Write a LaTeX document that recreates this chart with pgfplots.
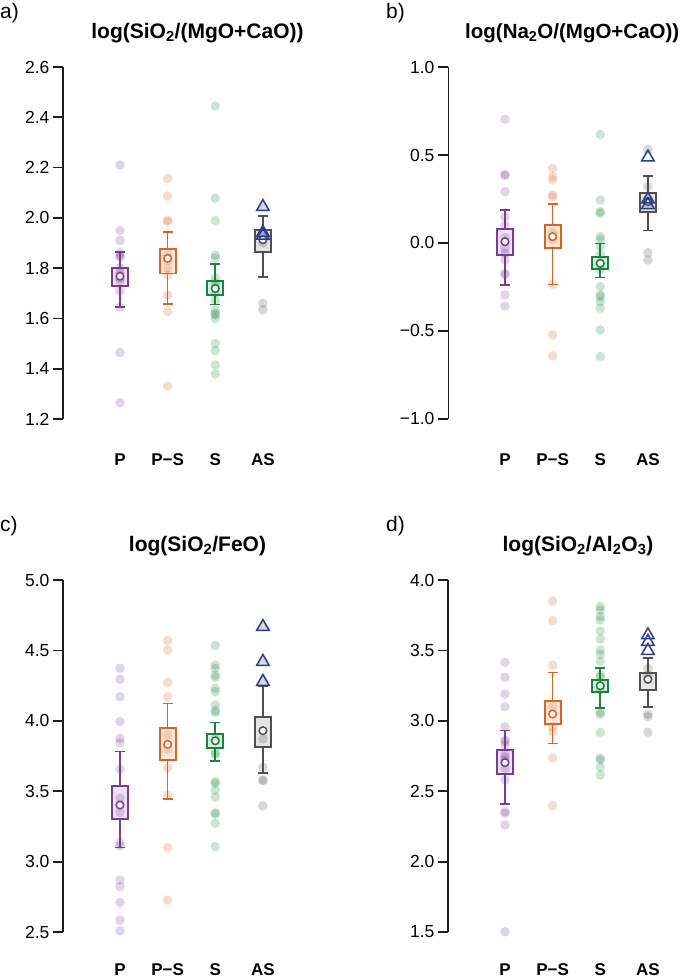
\documentclass[border=0pt]{standalone}
\usepackage{fontspec}
\setmainfont{Liberation Sans}
\usepackage{pgfplots}
\pgfplotsset{compat=1.18}
\definecolor{purpC}{RGB}{122,58,154}
\definecolor{oranC}{RGB}{222,100,30}
\definecolor{grenC}{RGB}{22,135,58}
\definecolor{grayC}{RGB}{80,80,80}
\definecolor{bluC}{RGB}{40,60,150}
\definecolor{axC}{RGB}{30,30,30}
% #1 x, #2 xL, #3 xR, #4 color, #5 lo, #6 q1, #7 mean, #8 q3, #9 hi
\newcommand{\grp}[9]{%
  \addplot[draw=#4, line width=1.8pt, fill=#4, fill opacity=0.15, mark=none] coordinates {(#2,#6) (#3,#6) (#3,#8) (#2,#8)} -- cycle;
  \addplot[#4, line width=1.6pt, mark=-, mark size=5pt, mark options={solid,line width=1.6pt}] coordinates {(#1,#5) (#1,#6)};
  \addplot[#4, line width=1.6pt, mark=-, mark size=5pt, mark options={solid,line width=1.6pt}] coordinates {(#1,#8) (#1,#9)};
  \addplot[only marks, mark=*, mark size=3.8pt, mark options={fill=white, draw=#4, line width=1.5pt}] coordinates {(#1,#7)};
}
\pgfplotsset{
  pts/.style={only marks, mark=*, mark size=4.8pt, color=#1, draw opacity=0, fill opacity=0.22,
     mark options={draw opacity=0, line width=0pt, fill=#1, fill opacity=0.22}},
  tri/.style={only marks, mark=triangle, mark size=7.2pt, mark options={draw=bluC, line width=1.5pt, fill=none}},
  panel/.style={
    scale only axis, width=269pt, xmin=-0.196, xmax=5.45,
    anchor=south west,
    axis y line*=left, axis x line*=bottom,
    x axis line style={draw=none},
    xtick={1,2,3,4}, xticklabels={P,P−S,S,AS},
    xtick style={draw=none},
    tick align=outside, major tick length=10pt,
    y axis line style={line width=1.8pt, color=axC},
    ytick style={line width=1.8pt, color=axC},
    yticklabel style={font=\fontsize{17.5}{20}\selectfont, text=black},
    xticklabel style={font=\bfseries\fontsize{17}{20}\selectfont, anchor=center, yshift=-31pt},
    clip=false,
  }
}
\begin{document}
\begin{tikzpicture}
\useasboundingbox (0pt,0pt) rectangle (685pt,-980pt);
\fill[white] (0pt,0pt) rectangle (685pt,-980pt);
% ---------------- a ----------------
\begin{axis}[panel, at={(63pt,-419pt)}, height=352pt, ymin=1.2, ymax=2.6,
  ytick={1.2,1.4,1.6,1.8,2.0,2.2,2.4,2.6}, yticklabels={1.2,1.4,1.6,1.8,2.0,2.2,2.4,2.6}]
\addplot[pts=purpC] coordinates {(1,2.21) (1,1.95) (1,1.91) (1,1.86) (1,1.85) (1,1.845) (1,1.80) (1,1.78) (1,1.76) (1,1.75) (1,1.71) (1,1.645) (1,1.465) (1,1.265)};
\addplot[pts=oranC] coordinates {(2,2.157) (2,2.087) (2,1.991) (2,1.985) (2,1.85) (2,1.83) (2,1.80) (2,1.773) (2,1.693) (2,1.627) (2,1.331)};
\addplot[pts=grenC] coordinates {(3,2.445) (3,2.078) (3,1.989) (3,1.852) (3,1.840) (3,1.761) (3,1.74) (3,1.726) (3,1.70) (3,1.67) (3,1.633) (3,1.62) (3,1.614) (3,1.60) (3,1.50) (3,1.472) (3,1.415) (3,1.379)};
\addplot[pts=grayC] coordinates {(4,2.044) (4,1.94) (4,1.93) (4,1.90) (4,1.66) (4,1.634)};
\grp{1}{0.832}{1.168}{purpC}{1.645}{1.728}{1.768}{1.800}{1.865}
\grp{2}{1.832}{2.168}{oranC}{1.657}{1.779}{1.839}{1.875}{1.944}
\grp{3}{2.832}{3.168}{grenC}{1.655}{1.692}{1.719}{1.748}{1.817}
\grp{4}{3.832}{4.168}{grayC}{1.765}{1.864}{1.913}{1.951}{2.008}
\addplot[tri] coordinates {(4,2.044) (4,1.941) (4,1.93)};
\end{axis}
% ---------------- b ----------------
\begin{axis}[panel, at={(448pt,-433pt)}, height=366pt, ymin=-1.08, ymax=1.0,
  clip=true, clip marker paths=true,
  y axis line style={draw=none},
  xticklabel style={yshift=14pt},
  ytick={-1,-0.5,0,0.5,1}, yticklabels={−1.0,−0.5,0.0,0.5,1.0}]
\draw[line width=1.8pt, color=axC] (axis cs:-0.196,-1) -- (axis cs:-0.196,1);
\addplot[pts=purpC] coordinates {(1,0.703) (1,0.39) (1,0.383) (1,0.292) (1,0.149) (1,0.102) (1,0.03) (1,-0.03) (1,-0.059) (1,-0.097) (1,-0.172) (1,-0.18) (1,-0.295) (1,-0.358) (1,-1.09)};
\addplot[pts=oranC] coordinates {(2,0.424) (2,0.377) (2,0.358) (2,0.273) (2,0.263) (2,0.06) (2,0.02) (2,-0.235) (2,-0.523) (2,-0.642)};
\addplot[pts=grenC] coordinates {(3,0.617) (3,0.244) (3,0.178) (3,0.169) (3,0.036) (3,0.017) (3,-0.021) (3,-0.068) (3,-0.116) (3,-0.15) (3,-0.248) (3,-0.295) (3,-0.305) (3,-0.333) (3,-0.371) (3,-0.494) (3,-0.646)};
\addplot[pts=grayC] coordinates {(4,0.532) (4,0.320) (4,0.25) (4,0.22) (4,-0.055) (4,-0.097)};
\grp{1}{0.832}{1.168}{purpC}{-0.239}{-0.068}{0.007}{0.078}{0.1875}
\grp{2}{1.832}{2.168}{oranC}{-0.235}{-0.030}{0.036}{0.102}{0.222}
\grp{3}{2.832}{3.168}{grenC}{-0.197}{-0.150}{-0.116}{-0.078}{-0.002}
\grp{4}{3.832}{4.168}{grayC}{0.07}{0.174}{0.235}{0.282}{0.381}
\addplot[tri] coordinates {(4,0.487) (4,0.248) (4,0.216)};
\end{axis}
% ---------------- c ----------------
\begin{axis}[panel, at={(63pt,-932pt)}, height=352pt, ymin=2.5, ymax=5.0,
  xticklabel style={yshift=3pt},
  ytick={2.5,3.0,3.5,4.0,4.5,5.0}, yticklabels={2.5,3.0,3.5,4.0,4.5,5.0}]
\addplot[pts=purpC] coordinates {(1,4.373) (1,4.295) (1,4.171) (1,3.994) (1,3.876) (1,3.845) (1,3.656) (1,3.45) (1,3.35) (1,3.134) (1,3.111) (1,2.869) (1,2.822) (1,2.711) (1,2.585) (1,2.509)};
\addplot[pts=oranC] coordinates {(2,4.569) (2,4.503) (2,4.273) (2,4.171) (2,3.899) (2,3.80) (2,3.667) (2,3.473) (2,3.099) (2,2.727)};
\addplot[pts=grenC] coordinates {(3,4.534) (3,4.396) (3,4.373) (3,4.325) (3,4.309) (3,4.231) (3,4.207) (3,4.112) (3,4.072) (3,4.058) (3,3.87) (3,3.769) (3,3.764) (3,3.568) (3,3.556) (3,3.509) (3,3.457) (3,3.347) (3,3.338) (3,3.272) (3,3.106)};
\addplot[pts=grayC] coordinates {(4,4.668) (4,4.42) (4,4.278) (4,3.871) (4,3.670) (4,3.58) (4,3.575) (4,3.395)};
\grp{1}{0.832}{1.168}{purpC}{3.099}{3.303}{3.402}{3.537}{3.781}
\grp{2}{1.832}{2.168}{oranC}{3.445}{3.722}{3.833}{3.947}{4.124}
\grp{3}{2.832}{3.168}{grenC}{3.714}{3.805}{3.858}{3.906}{3.989}
\grp{4}{3.832}{4.168}{grayC}{3.631}{3.816}{3.930}{4.029}{4.245}
\addplot[tri] coordinates {(4,4.668) (4,4.42) (4,4.278)};
\end{axis}
% ---------------- d ----------------
\begin{axis}[panel, at={(448pt,-932pt)}, height=352pt, ymin=1.5, ymax=4.0,
  xticklabel style={yshift=3pt},
  ytick={1.5,2.0,2.5,3.0,3.5,4.0}, yticklabels={1.5,2.0,2.5,3.0,3.5,4.0}]
\addplot[pts=purpC] coordinates {(1,3.415) (1,3.309) (1,3.19) (1,3.10) (1,2.958) (1,2.864) (1,2.852) (1,2.828) (1,2.757) (1,2.74) (1,2.72) (1,2.663) (1,2.58) (1,2.355) (1,2.343) (1,2.26) (1,1.502)};
\addplot[pts=oranC] coordinates {(2,3.851) (2,3.711) (2,3.396) (2,3.10) (2,2.958) (2,2.923) (2,2.736) (2,2.397)};
\addplot[pts=grenC] coordinates {(3,3.811) (3,3.787) (3,3.74) (3,3.716) (3,3.638) (3,3.581) (3,3.503) (3,3.472) (3,3.42) (3,3.325) (3,3.309) (3,3.25) (3,3.22) (3,3.058) (3,3.048) (3,2.918) (3,2.734) (3,2.722) (3,2.67) (3,2.615)};
\addplot[pts=grayC] coordinates {(4,3.373) (4,3.325) (4,3.048) (4,3.029) (4,2.918)};
\grp{1}{0.832}{1.168}{purpC}{2.409}{2.620}{2.703}{2.793}{2.930}
\grp{2}{1.832}{2.168}{oranC}{2.840}{2.975}{3.048}{3.141}{3.344}
\grp{3}{2.832}{3.168}{grenC}{3.093}{3.202}{3.249}{3.290}{3.377}
\grp{4}{3.832}{4.168}{grayC}{3.096}{3.219}{3.295}{3.342}{3.448}
\addplot[tri] coordinates {(4,3.609) (4,3.562) (4,3.498)};
\end{axis}
% ---------------- labels and titles ----------------
\node[anchor=west, inner sep=0pt, font=\fontsize{21}{24}\selectfont] at (0pt,-13pt) {a)};
\node[anchor=west, inner sep=0pt, font=\fontsize{21}{24}\selectfont] at (386pt,-13pt) {b)};
\node[anchor=west, inner sep=0pt, font=\fontsize{21}{24}\selectfont] at (0pt,-526pt) {c)};
\node[anchor=west, inner sep=0pt, font=\fontsize{21}{24}\selectfont] at (386pt,-526pt) {d)};
\node[font=\bfseries\fontsize{21}{24}\selectfont] at (197.5pt,-33pt) {log(SiO\textsubscript{2}/(MgO+CaO))};
\node[anchor=west, inner sep=0pt, font=\bfseries\fontsize{20.5}{24}\selectfont] at (465pt,-33pt) {log(Na\textsubscript{2}O/(MgO+CaO))};
\node[font=\bfseries\fontsize{21}{24}\selectfont] at (197.5pt,-546pt) {log(SiO\textsubscript{2}/FeO)};
\node[font=\bfseries\fontsize{21}{24}\selectfont] at (578pt,-546pt) {log(SiO\textsubscript{2}/Al\textsubscript{2}O\textsubscript{3})};
\end{tikzpicture}
\end{document}
